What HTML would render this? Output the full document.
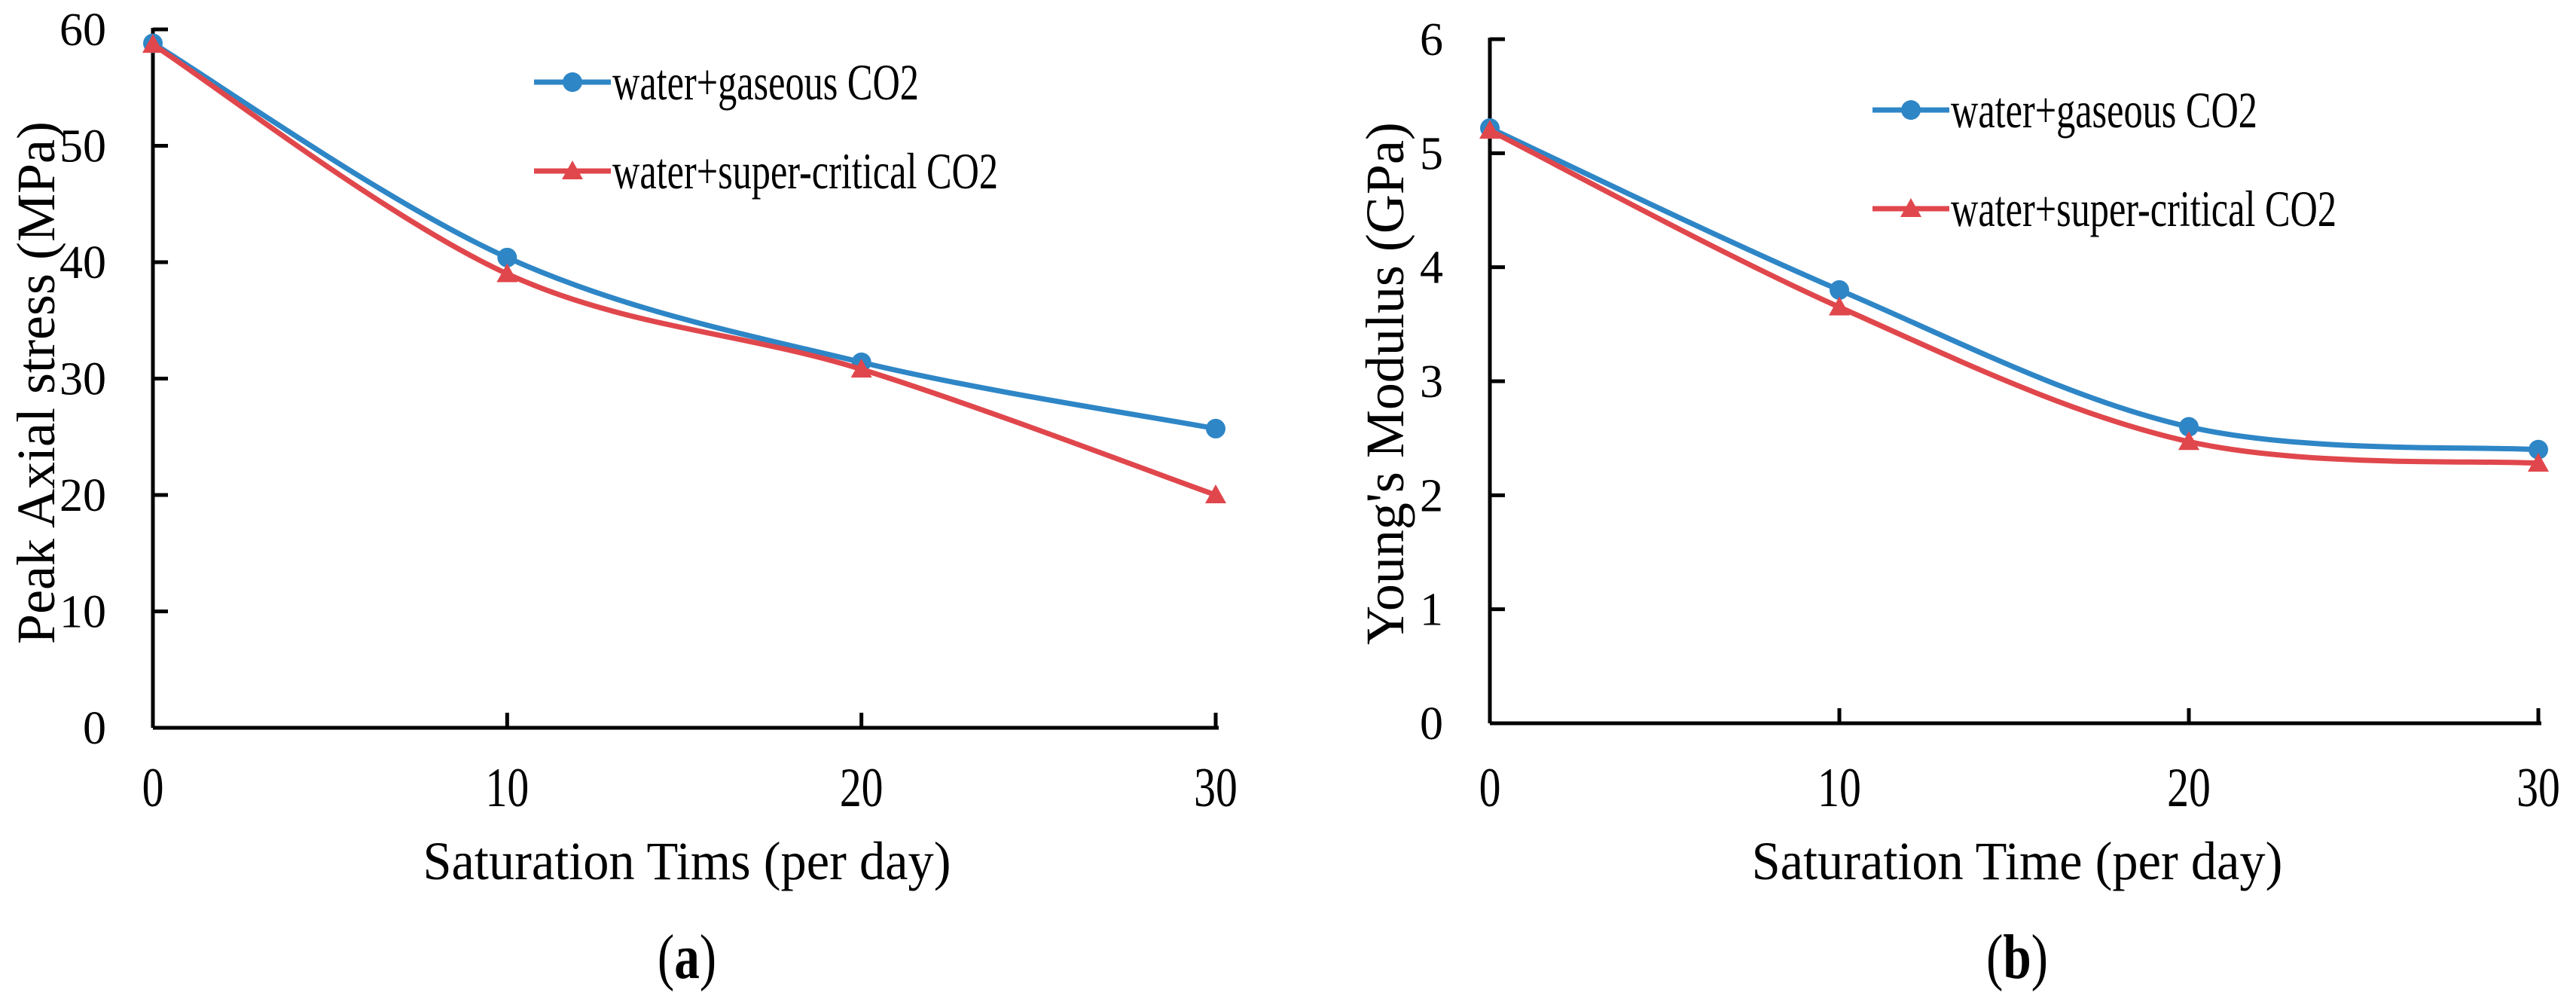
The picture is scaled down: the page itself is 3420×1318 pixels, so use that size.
<!DOCTYPE html>
<html><head><meta charset="utf-8"><style>
html,body{margin:0;padding:0;background:#fff;}
svg{display:block;font-family:"Liberation Serif",serif;}
</style></head><body>
<svg id="s" width="3420" height="1318" viewBox="0 0 3420 1318"></svg>
<script>
const days = [0, 10, 20, 30];
const stressGas = [58.8, 40.4, 31.4, 25.7];
const stressSc = [58.7, 39.0, 30.8, 20.0];
const modGas = [5.22, 3.8, 2.6, 2.4];
const modSc = [5.2, 3.65, 2.47, 2.28];
const stressTicks = [0, 10, 20, 30, 40, 50, 60];
const modTicks = [0, 1, 2, 3, 4, 5, 6];
const xTicks = [0, 10, 20, 30];
const legendLabels = ["water+gaseous CO2", "water+super-critical CO2"];

const NS = "http://www.w3.org/2000/svg";
const svg = document.getElementById('s');
const BLUE = "#2e86c6", RED = "#e0474c";
function mk(tag, attrs, parent){const e=document.createElementNS(NS,tag);for(const k in attrs)e.setAttribute(k,attrs[k]);(parent||svg).appendChild(e);return e;}
function stext(parent, x, y, txt, size, sx, anchor, bold){
  const t = mk('text',{x:0,y:0,"text-anchor":anchor,"font-size":size,transform:"translate("+x+","+y+") scale("+sx+",1)"},parent);
  if(bold) t.setAttribute('font-weight','bold');
  t.textContent = txt;
  return t;
}
function smooth(pts){
  let d = "M"+pts[0][0]+","+pts[0][1];
  for(let i=0;i<pts.length-1;i++){
    const p0=pts[Math.max(0,i-1)],p1=pts[i],p2=pts[i+1],p3=pts[Math.min(pts.length-1,i+2)];
    const t=1/6;
    const c1=[p1[0]+(p2[0]-p0[0])*t,p1[1]+(p2[1]-p0[1])*t];
    const c2=[p2[0]-(p3[0]-p1[0])*t,p2[1]-(p3[1]-p1[1])*t];
    d+=" C"+c1+" "+c2+" "+p2;
  }
  return d;
}
function chart(cfg){
  const g = mk('g',{});
  
  
  const xs = v => cfg.x0 + (v - 0) / 30 * (cfg.x1 - cfg.x0);
  const ys = v => cfg.y0 - v / cfg.ymax * (cfg.y0 - cfg.ytop);
  const ya = mk('line',{x1:cfg.x0,y1:cfg.ytop-2,x2:cfg.x0,y2:cfg.y0,stroke:"#000","stroke-width":5},g);
  
  
  const xa = mk('line',{x1:cfg.x0,y1:cfg.y0,x2:cfg.x1+4,y2:cfg.y0,stroke:"#000","stroke-width":5},g);
  
  
  cfg.yticks.forEach(v=>{
    const y=ys(v);
    const tk = mk('line',{x1:cfg.x0,y1:y,x2:cfg.x0+20,y2:y,stroke:"#000","stroke-width":5},g);
    
    
    const t = stext(g, cfg.x0-62, y+21, String(v), 62, 1, "end", false);
    
    
  });
  xTicks.forEach(v=>{
    const x=xs(v);
    const tk = mk('line',{x1:x,y1:cfg.y0,x2:x,y2:cfg.y0-20,stroke:"#000","stroke-width":5},g);
    
    
    const t = stext(g, x, 1070, String(v), 74, 0.78, "middle", false);
    
    
  });
  const xt = stext(g, cfg.xtx, 1167, cfg.xtitle, 72, 0.95, "middle", false);
  
  
  const yt = mk('text',{x:0,y:0,"text-anchor":"middle","font-size":72,transform:"translate("+cfg.ytx+","+cfg.yty+") rotate(-90)"},g);
  yt.textContent=cfg.ytitle;
  
  
  const pl = mk('text',{x:0,y:0,"text-anchor":"middle","font-size":84,transform:"translate("+cfg.xtx+",1298) scale(0.8,1)"},g);
  pl.innerHTML='(<tspan font-weight="bold">'+cfg.panel+'</tspan>)';
  
  
  [[cfg.s1,BLUE,'circle'],[cfg.s2,RED,'tri']].forEach(([vals,col,m],si)=>{
    const pts = days.map((d,i)=>[xs(d),ys(vals[i])]);
    const p = mk('path',{d:smooth(pts),fill:"none",stroke:col,"stroke-width":7},g);
    
    
    pts.forEach(pt=>{
      let mkr;
      if(m==='circle') mkr = mk('circle',{cx:pt[0],cy:pt[1],r:13,fill:col},g);
      else mkr = mk('polygon',{points:(pt[0])+","+(pt[1]-14)+" "+(pt[0]-14)+","+(pt[1]+11)+" "+(pt[0]+14)+","+(pt[1]+11),fill:col},g);
      
      
    });
  });
  [[BLUE,'circle',cfg.ly1],[RED,'tri',cfg.ly2]].forEach(([col,m,ly],i)=>{
    const lg = mk('g',{},g);
    
    
    mk('line',{x1:cfg.lx,y1:ly,x2:cfg.lx+102,y2:ly,stroke:col,"stroke-width":7},lg);
    const cx=cfg.lx+51;
    if(m==='circle') mk('circle',{cx:cx,cy:ly,r:13,fill:col},lg);
    else mk('polygon',{points:cx+","+(ly-14)+" "+(cx-14)+","+(ly+11)+" "+(cx+14)+","+(ly+11),fill:col},lg);
    stext(lg, cfg.lx+104, ly+23, legendLabels[i], 68, 0.74, "start", false);
  });
}
chart({name:'chart-a',x0:203,x1:1614,y0:966,ytop:39,ymax:60,yticks:stressTicks,s1:stressGas,s2:stressSc,
  xtitle:'Saturation Tims (per day)',xtx:912,ytitle:'Peak Axial stress (MPa)',ytx:72,yty:508,panel:'a',lx:709,ly1:109,ly2:227});
chart({name:'chart-b',x0:1978,x1:3370,y0:960,ytop:52,ymax:6,yticks:modTicks,s1:modGas,s2:modSc,
  xtitle:'Saturation Time (per day)',xtx:2678,ytitle:"Young's Modulus (GPa)",ytx:1863,yty:509,panel:'b',lx:2486,ly1:146,ly2:277});
</script>
</body></html>
